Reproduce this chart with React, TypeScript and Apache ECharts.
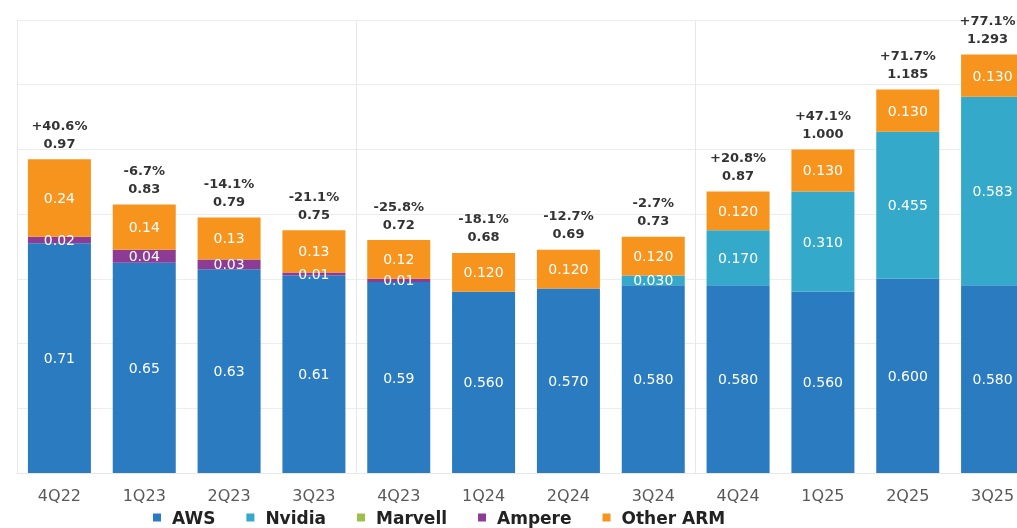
import React, { useEffect, useRef } from "react";
import * as echarts from "echarts";

const categories = ["4Q22", "1Q23", "2Q23", "3Q23", "4Q23", "1Q24", "2Q24", "3Q24", "4Q24", "1Q25", "2Q25", "3Q25"];
const aws = [0.71, 0.65, 0.63, 0.61, 0.59, 0.56, 0.57, 0.58, 0.58, 0.56, 0.6, 0.58];
const nvidia = [0, 0, 0, 0, 0, 0, 0, 0.03, 0.17, 0.31, 0.455, 0.583];
const marvell = [0, 0, 0, 0, 0, 0, 0, 0, 0, 0, 0, 0];
const ampere = [0.02, 0.04, 0.03, 0.01, 0.01, 0, 0, 0, 0, 0, 0, 0];
const otherArm = [0.24, 0.14, 0.13, 0.13, 0.12, 0.12, 0.12, 0.12, 0.12, 0.13, 0.13, 0.13];
const totalLabels = ["0.97", "0.83", "0.79", "0.75", "0.72", "0.68", "0.69", "0.73", "0.87", "1.000", "1.185", "1.293"];
const growthLabels = ["+40.6%", "-6.7%", "-14.1%", "-21.1%", "-25.8%", "-18.1%", "-12.7%", "-2.7%", "+20.8%", "+47.1%", "+71.7%", "+77.1%"];

const FONT = "'DejaVu Sans', sans-serif";

export default function App() {
  const ref = useRef<HTMLDivElement>(null);
  useEffect(() => {
    if (!ref.current) return;
    const chart = echarts.init(ref.current, null, { renderer: "svg" });
    const fmt = (p: any) => {
      const v = p.value as number;
      if (!v) return "";
      return p.dataIndex < 5 ? v.toFixed(2) : v.toFixed(3);
    };
    const inside = {
      show: true,
      position: "inside",
      color: "#ffffff",
      fontSize: 14,
      fontFamily: FONT,
      formatter: fmt,
    };
    const mk = (name: string, data: number[], color: string) => ({
      name,
      type: "bar",
      stack: "total",
      data,
      barWidth: 63,
      itemStyle: { color },
      label: inside,
    });
    const lastIdx = categories.length - 1;
    chart.setOption({
      animation: false,
      textStyle: { fontFamily: FONT },
      grid: { left: 17, right: 0, top: 20, bottom: 55, containLabel: false },
      legend: {
        data: ["AWS", "Nvidia", "Marvell", "Ampere", "Other ARM"],
        left: 148,
        top: 504,
        icon: "rect",
        itemWidth: 8,
        itemHeight: 8,
        itemGap: 31,
        textStyle: { fontSize: 17, fontWeight: "bold", color: "#222", fontFamily: FONT, padding: [0, 0, 0, 6] },
      },
      xAxis: {
        type: "category",
        data: categories,
        axisTick: { show: false },
        axisLine: { show: true, lineStyle: { color: "#e8e8e8" } },
        axisLabel: { color: "#595959", fontSize: 16, margin: 14, fontFamily: FONT },
        splitLine: { show: true, interval: 3, lineStyle: { color: "#e8e8e8" } },
      },
      yAxis: {
        type: "value",
        min: 0,
        max: 1.4,
        interval: 0.2,
        axisLabel: { show: false },
        axisLine: { show: false },
        axisTick: { show: false },
        splitLine: { show: true, lineStyle: { color: "#ececec" } },
      },
      series: [
        mk("AWS", aws, "#2a7bc0"),
        mk("Nvidia", nvidia, "#34a9c9"),
        mk("Marvell", marvell, "#9dc04a"),
        mk("Ampere", ampere, "#8d3c96"),
        mk("Other ARM", otherArm, "#f7941d"),
        {
          name: "Total",
          type: "bar",
          stack: "total",
          barWidth: 63,
          data: categories.map((_, i) =>
            i === lastIdx ? { value: 0, label: { offset: [-5, 0] } } : 0
          ),
          itemStyle: { color: "transparent" },
          label: {
            show: true,
            position: "top",
            distance: 7,
            color: "#333",
            fontSize: 13,
            fontWeight: "bold",
            lineHeight: 18,
            fontFamily: FONT,
            formatter: (p: any) => growthLabels[p.dataIndex] + "\n" + totalLabels[p.dataIndex],
          },
        },
      ],
    });
    return () => chart.dispose();
  }, []);
  return (
    <div style={{ position: "fixed", left: 0, top: 0, width: 1017, height: 528, overflow: "hidden" }}>
      <div ref={ref} style={{ width: 1035, height: 528 }} />
    </div>
  );
}
